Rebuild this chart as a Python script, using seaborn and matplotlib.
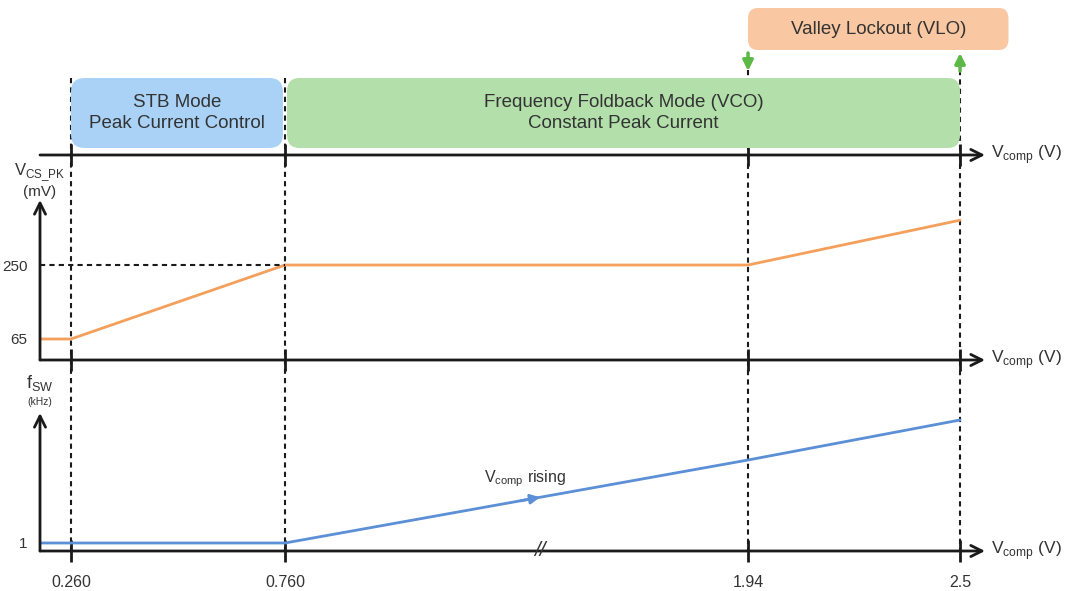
import numpy as np
import matplotlib
matplotlib.use("Agg")
import matplotlib.pyplot as plt
from matplotlib.patches import FancyBboxPatch
import seaborn as sns

# data
vcomp = [0.19, 0.26, 0.76, 1.94, 2.5]
vcs_pk = [65, 65, 250, 250, 362]
fsw = [1, 1, 1, 84, 124]
tick_v = [0.26, 0.76, 1.94, 2.5]
tick_labels = ["0.260", "0.760", "1.94", "2.5"]
mode_names = ["STB Mode\nPeak Current Control",
              "Frequency Foldback Mode (VCO)\nConstant Peak Current"]
mode_start = [0.26, 0.765]
mode_end = [0.755, 2.5]
mode_colors = ["#a9d2f6", "#b3dfab"]
vlo_name = "Valley Lockout (VLO)"
vlo_start, vlo_end = 1.94, 2.63

sns.set_theme(style="white")
plt.rcParams["font.family"] = ["Liberation Sans", "DejaVu Sans"]
plt.rcParams["mathtext.fontset"] = "custom"
plt.rcParams["mathtext.rm"] = "Liberation Sans"

orange = "#f4a05c"
blue = "#5b8fd6"
green = "#5cb946"
txt = "#333333"

# broken axis: piecewise linear scale (Vcomp -> pixel column)
knot_v = [0.19, 0.26, 0.76, 1.94, 2.5, 2.79]
knot_p = [40, 71, 285, 748, 960, 1068]
def forward(v):
    return np.interp(v, knot_v, knot_p)
def inverse(p):
    return np.interp(p, knot_p, knot_v)

W, H = 1068, 591
fig = plt.figure(figsize=(W / 100, H / 100), dpi=100)

def px_axes(top, bottom):
    ax = fig.add_axes([40 / W, 1 - bottom / H, 945 / W, (bottom - top) / H])
    ax.set_xscale("function", functions=(forward, inverse))
    ax.set_xlim(0.19, 2.567)
    ax.set_facecolor("none")
    for s in ax.spines.values():
        s.set_visible(False)
    return ax

ax_all = px_axes(0, H)
ax_all.set_ylim(H, 0)
ax_all.set_xticks([])
ax_all.set_yticks([])
ax_top = px_axes(0, 155)
ax_top.set_ylim(155, 0)
ax_cs = px_axes(200, 360)
ax_cs.set_ylim(12.5, 412.5)
ax_fs = px_axes(413, 551)
ax_fs.set_ylim(-7, 131)

# dashed guides
dash = dict(colors="k", linestyles=(0, (2.5, 2)), linewidth=1.5)
ax_all.vlines(tick_v[:2], 78, 551, **dash)
ax_all.vlines(tick_v[2:], 70, 551, **dash)

# axes with arrows
for ax in (ax_top, ax_cs, ax_fs):
    ax.annotate("", xy=(1, 0), xytext=(0, 0), xycoords="axes fraction",
                arrowprops=dict(arrowstyle="->", lw=2, color="k",
                                mutation_scale=20, shrinkA=0, shrinkB=0))
    ax.set_xticks(tick_v)
    ax.tick_params(axis="x", direction="inout", length=16, width=2,
                   color="k", labelbottom=False, bottom=True)
    ax.text(1.006, 0, r"V$_{\rm comp}$ (V)", transform=ax.transAxes,
            ha="left", va="center", fontsize=12.5, color=txt)
for ax in (ax_cs, ax_fs):
    ax.annotate("", xy=(0, 1), xytext=(0, 0), xycoords="axes fraction",
                arrowprops=dict(arrowstyle="->", lw=2, color="k",
                                mutation_scale=20, shrinkA=0, shrinkB=0))
    ax.tick_params(axis="y", length=0, pad=9, labelsize=11, labelcolor=txt)
ax_top.set_yticks([])
ax_fs.set_xticklabels(tick_labels)
ax_fs.tick_params(axis="x", labelbottom=True, labelsize=11.5, pad=9,
                  labelcolor=txt)

# mode boxes
for name, x0, x1, c in zip(mode_names, mode_start, mode_end, mode_colors):
    ax_top.add_patch(FancyBboxPatch((x0, 78), x1 - x0, 70,
                                    boxstyle="round,pad=0,rounding_size=0.032",
                                    mutation_aspect=420, fc=c, ec="none"))
    xc = inverse((forward(x0) + forward(x1)) / 2)
    ax_top.text(xc, 113, name, ha="center", va="center", fontsize=13.5,
                color=txt, linespacing=1.35)
ax_top.add_patch(FancyBboxPatch((vlo_start, 8), vlo_end - vlo_start, 42,
                                boxstyle="round,pad=0,rounding_size=0.025",
                                mutation_aspect=420, fc="#f9c7a1", ec="none",
                                clip_on=False))
ax_top.text(inverse((forward(vlo_start) + forward(vlo_end)) / 2), 29, vlo_name,
            ha="center", va="center", fontsize=13.5, color=txt)
ax_top.annotate("", xy=(vlo_start, 71), xytext=(vlo_start, 53),
                arrowprops=dict(arrowstyle="-|>", lw=2.5, color=green,
                                mutation_scale=15, shrinkA=0, shrinkB=0))
ax_top.annotate("", xy=(2.5, 53), xytext=(2.5, 71),
                arrowprops=dict(arrowstyle="-|>", lw=2.5, color=green,
                                mutation_scale=15, shrinkA=0, shrinkB=0))

# V_CS_PK panel
sns.lineplot(x=vcomp, y=vcs_pk, ax=ax_cs, color=orange, lw=2, sort=False)
ax_cs.hlines(250, 0.19, 0.76, **dash)
ax_cs.set_yticks([65, 250])
ax_cs.annotate("(mV)", xy=(0, 1), xycoords="axes fraction", xytext=(0, 8),
               textcoords="offset pixels", ha="center", va="center",
               fontsize=11, color=txt)
ax_cs.annotate(r"V$_{\rm CS\_PK}$", xy=(0, 1), xycoords="axes fraction",
               xytext=(0, 27), textcoords="offset pixels", ha="center",
               va="center", fontsize=12, color=txt)

# f_SW panel
sns.lineplot(x=vcomp, y=fsw, ax=ax_fs, color=blue, lw=2, sort=False)
ax_fs.set_yticks([1])
ax_fs.set_xlabel("")
ax_cs.set_xlabel("")
ax_fs.annotate("(kHz)", xy=(0, 1), xycoords="axes fraction", xytext=(0, 11),
               textcoords="offset pixels", ha="center", va="center",
               fontsize=7.5, color=txt)
ax_fs.annotate(r"f$_{\rm SW}$", xy=(0, 1), xycoords="axes fraction",
               xytext=(0, 30), textcoords="offset pixels", ha="center",
               va="center", fontsize=13, color=txt)
a0, a1 = 1.36, 1.41
ax_fs.annotate("", xy=(a1, np.interp(a1, vcomp, fsw)),
               xytext=(a0, np.interp(a0, vcomp, fsw)),
               arrowprops=dict(arrowstyle="-|>", color=blue, lw=2,
                               mutation_scale=14, shrinkA=0, shrinkB=0))
ax_fs.annotate(r"V$_{\rm comp}$ rising", xy=(a1, np.interp(a1, vcomp, fsw)),
               xytext=(-15, 19), textcoords="offset pixels", ha="center",
               va="center", fontsize=11.5, color=txt)
ax_fs.text(a1, 0, "//", transform=ax_fs.get_xaxis_transform(), ha="center",
           va="center", fontsize=15, color=txt, style="italic")

fig.savefig("out.png", dpi=100)
